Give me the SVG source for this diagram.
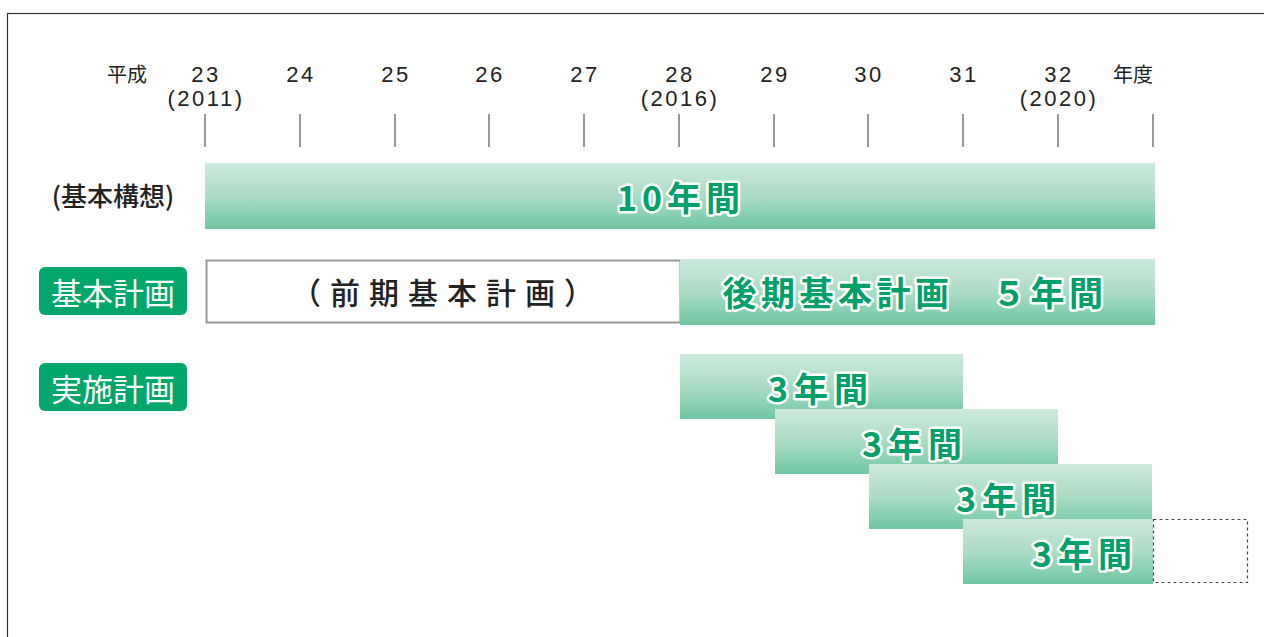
<svg xmlns="http://www.w3.org/2000/svg" width="1264" height="637" viewBox="0 0 1264 637">
<defs>
<linearGradient id="g" x1="0" y1="0" x2="0" y2="1">
<stop offset="0" stop-color="#cde9dc"/>
<stop offset="0.5" stop-color="#abdcc5"/>
<stop offset="1" stop-color="#6fc6a3"/>
</linearGradient>
<style>
.yr{font-family:"Liberation Sans","Noto Sans CJK JP",sans-serif;font-size:22px;fill:#222;text-anchor:middle;letter-spacing:2.5px}
.jp{font-family:"Noto Sans CJK JP",sans-serif;font-size:20px;fill:#222;text-anchor:middle}
.tick{stroke:#555;stroke-width:1.2}
.bar{fill:url(#g)}
.gt{font-family:"Noto Sans CJK JP",sans-serif;font-weight:bold;font-size:34px;fill:#00a06a;stroke:#fff;stroke-width:5;stroke-linejoin:round;paint-order:stroke;text-anchor:middle;dominant-baseline:central}
.badge{fill:#00a66a}
.bt{font-family:"Noto Sans CJK JP",sans-serif;font-size:31px;fill:#fff;text-anchor:middle;dominant-baseline:central}
</style>
</defs>
<rect x="7.5" y="13.5" width="1270" height="640" fill="#fff" stroke="#333" stroke-width="1.2"/>
<g id="axis">
<text class="jp" x="127" y="82">平成</text>
<text class="yr" x="206" y="82">23</text>
<text class="yr" x="206" y="106">(2011)</text>
<text class="yr" x="301" y="82">24</text>
<text class="yr" x="396" y="82">25</text>
<text class="yr" x="490" y="82">26</text>
<text class="yr" x="585" y="82">27</text>
<text class="yr" x="680" y="82">28</text>
<text class="yr" x="680" y="106">(2016)</text>
<text class="yr" x="775" y="82">29</text>
<text class="yr" x="869" y="82">30</text>
<text class="yr" x="964" y="82">31</text>
<text class="yr" x="1059" y="82">32</text>
<text class="yr" x="1059" y="106">(2020)</text>
<text class="jp" x="1133" y="82">年度</text>
<g>
<line class="tick" x1="205" y1="114" x2="205" y2="147"/>
<line class="tick" x1="300" y1="114" x2="300" y2="147"/>
<line class="tick" x1="395" y1="114" x2="395" y2="147"/>
<line class="tick" x1="489" y1="114" x2="489" y2="147"/>
<line class="tick" x1="584" y1="114" x2="584" y2="147"/>
<line class="tick" x1="679" y1="114" x2="679" y2="147"/>
<line class="tick" x1="774" y1="114" x2="774" y2="147"/>
<line class="tick" x1="868" y1="114" x2="868" y2="147"/>
<line class="tick" x1="963" y1="114" x2="963" y2="147"/>
<line class="tick" x1="1058" y1="114" x2="1058" y2="147"/>
<line class="tick" x1="1153" y1="114" x2="1153" y2="147"/>
</g>
</g>
<g id="label-kousou">
<text x="113" y="194" font-family="Noto Sans CJK JP,sans-serif" font-size="26" font-weight="500" fill="#222" text-anchor="middle" dominant-baseline="central">(基本構想)</text>
</g>
<g id="bar-kousou">
<rect class="bar" x="205" y="163" width="950" height="66"/>
<text class="gt" x="681" y="196" letter-spacing="5">10年間</text>
</g>
<g id="label-kihon">
<rect class="badge" x="39" y="267" width="148" height="48" rx="6"/>
<text class="bt" x="113" y="291">基本計画</text>
</g>
<g id="bar-zenki">
<rect x="206.5" y="260.5" width="474" height="62" fill="#fff" stroke="#999" stroke-width="2"/>
<text x="447" y="291" font-family="Noto Sans CJK JP,sans-serif" font-size="30" font-weight="500" fill="#222" text-anchor="middle" dominant-baseline="central" letter-spacing="9">（前期基本計画）</text>
</g>
<g id="bar-kouki">
<rect class="bar" x="680" y="259" width="475" height="66"/>
<text class="gt" x="915" y="291" font-size="33" letter-spacing="4.5">後期基本計画　５年間</text>
</g>
<g id="label-jisshi">
<rect class="badge" x="39" y="363" width="148" height="48" rx="6"/>
<text class="bt" x="113" y="387">実施計画</text>
</g>
<g id="bar-j1">
<rect class="bar" x="680" y="354" width="283" height="65"/>
<text class="gt" x="821" y="387" letter-spacing="6">3年間</text>
</g>
<g id="bar-j2">
<rect class="bar" x="775" y="409" width="283" height="65"/>
<text class="gt" x="915" y="442" letter-spacing="6">3年間</text>
</g>
<g id="bar-j3">
<rect class="bar" x="869" y="464" width="283" height="65"/>
<text class="gt" x="1009" y="497" letter-spacing="6">3年間</text>
</g>
<g id="bar-j4">
<rect class="bar" x="963" y="519" width="190" height="65"/>
<text class="gt" x="1085" y="552" letter-spacing="6">3年間</text>
</g>
<g id="dashed-ext">
<rect x="1153.5" y="519.5" width="94" height="63" fill="none" stroke="#444" stroke-width="1.2" stroke-dasharray="3,3"/>
</g>
</svg>
